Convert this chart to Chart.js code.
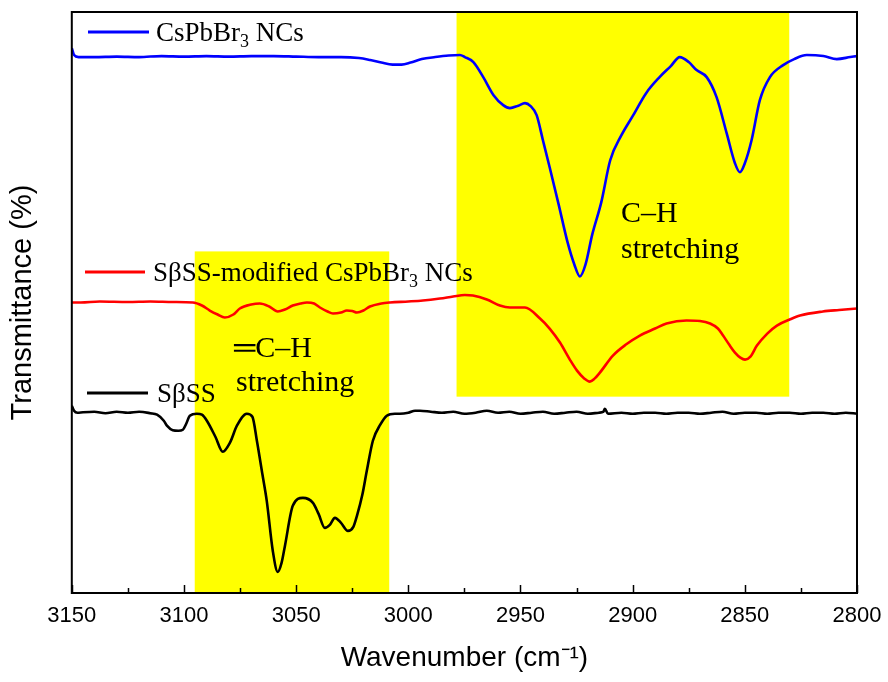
<!DOCTYPE html>
<html><head><meta charset="utf-8">
<script src="https://cdn.jsdelivr.net/npm/chart.js@4/dist/chart.umd.min.js"></script>
<style>html,body{margin:0;padding:0;background:#fff}#wrap{width:888px;height:682px}</style>
</head><body><div id="wrap"><canvas id="c" width="888" height="682" style="width:888px;height:682px"></canvas></div>
<script>
// ---- data (wavenumber in cm-1, transmittance in arbitrary offset units) ----
const xTickValues = [3150, 3100, 3050, 3000, 2950, 2900, 2850, 2800];
const seriesNames = ['CsPbBr3 NCs', 'SβSS-modified CsPbBr3 NCs', 'SβSS'];

const blueX = [3150,3149,3147,3140,3130,3120,3110,3100,3090,3080,3070,3060,3050,3040,3030,3022,3017,3012,3007,3003,2999,2994,2988,2982,2977,2974.8,2971,2966.6,2962,2957.7,2954.7,2951,2948,2945.5,2942.8,2940,2937,2933,2929,2926,2923.5,2921,2918,2914,2910,2905,2900,2894,2888,2883,2879,2875,2871.5,2867,2862.6,2858.1,2854.4,2852.2,2850,2847,2843.3,2838.8,2832.9,2828,2822.4,2815,2809,2803,2800];
const blueY = [54.4,53.7,53.5,53.5,53.55,53.5,53.6,53.55,53.6,53.55,53.6,53.6,53.55,53.5,53.5,53.4,53.2,52.95,52.75,52.75,52.95,53.3,53.5,53.65,53.7,53.5,53.0,51.5,49.7,48.7,48.4,48.65,48.9,48.6,47.7,45.2,42.5,38.8,35.0,32.8,31.6,32.8,35.8,39.0,43.2,45.7,47.6,49.9,51.5,52.6,53.5,53.0,52.2,51.5,49.5,45.9,42.9,42.0,42.9,45.2,49.2,51.5,52.7,53.3,53.7,53.6,53.3,53.5,53.6];

const redX = [3150,3146,3137.5,3125,3115,3105,3096,3092,3088.5,3085,3081.8,3078,3075.1,3070,3066.2,3062,3058.2,3055,3051.5,3048,3045.2,3042,3039.4,3036,3033.6,3030,3027.4,3025,3022.9,3020,3017.1,3012,3008.2,3000,2993.5,2985.9,2980,2974.8,2971.2,2965,2959.2,2954.7,2948,2941.3,2937,2932.4,2928,2924.8,2921.5,2919.1,2917,2914.6,2908.8,2903,2896.8,2890,2884.9,2876,2870,2865.5,2862,2859.7,2857,2854.4,2852,2849.9,2847.5,2844.6,2840,2835.7,2830,2825.4,2815.2,2808,2800];
const redY = [29.0,29.0,29.1,29.05,29.1,29.05,29.0,28.7,28.2,27.8,27.5,27.8,28.4,28.8,28.9,28.6,28.1,28.3,28.7,28.9,29.0,28.9,28.5,28.1,27.9,28.0,28.2,28.15,28.0,28.2,28.6,28.9,29.0,29.1,29.2,29.4,29.6,29.75,29.7,29.3,28.7,28.5,28.5,27.4,26.4,25.0,23.3,22.2,21.4,21.1,21.4,22.0,23.7,24.8,25.7,26.4,26.9,27.2,27.15,26.9,26.4,25.7,24.8,24.0,23.5,23.3,23.6,24.7,25.9,26.7,27.3,27.7,28.1,28.25,28.4];

const blackX = [3150,3149,3147.5,3145,3140,3135,3130,3125,3120,3115,3112,3109,3107.6,3105,3102.5,3100.5,3099,3097.4,3094.3,3092,3089.8,3086,3082.7,3079.5,3076.4,3072,3069.5,3067.5,3065,3063.1,3060.4,3058.2,3056.5,3055,3051.5,3047,3042.5,3040,3037.2,3035,3032.7,3030,3026.9,3024.5,3022.9,3020.5,3018.5,3015.8,3012.5,3009.6,3006,3003.8,3000,2997,2994.8,2990,2985,2980,2975,2970,2965,2960,2955,2950,2945,2940,2935,2930,2925,2920,2915,2913,2912.4,2911,2905,2900,2895,2890,2885,2880,2875,2870,2865,2860,2855,2850,2845,2840,2835,2830,2825,2820,2815,2810,2805,2800];
const blackY = [18.7,18.2,18.0,18.05,18.1,17.95,18.1,18.0,18.1,17.95,17.8,17.2,16.7,16.25,16.2,16.3,16.9,17.7,17.9,17.8,17.2,15.6,14.1,15.0,16.7,17.9,17.6,15.2,11.8,9.2,4.2,2.1,3.0,4.7,8.7,9.5,9.0,7.9,6.5,6.8,7.5,7.0,6.2,6.6,7.7,9.8,12.2,15.2,16.8,17.7,17.9,17.9,18.0,18.2,18.2,18.1,18.0,18.1,17.9,18.0,18.2,18.0,18.1,17.9,18.0,18.1,17.9,18.0,18.1,17.9,18.0,18.1,18.4,17.9,18.0,17.9,18.0,18.0,17.9,18.0,18.0,17.9,18.0,18.1,17.9,18.0,18.0,17.9,18.0,18.0,17.9,18.0,18.0,17.9,18.0,17.9];

// highlighted regions [x-from, x-to] and [y-from, y-to]
const boxX = [[2978.5, 2830.2], [3095.2, 3008.5]];
const boxY = [[19.6, 58], [0, 34.1]];

const toPts = (xs, ys) => xs.map((v, i) => ({x: v, y: ys[i]}));

function drawSubText(ctx, x, yb, parts) {
  let cx = x;
  for (const [t, sub] of parts) {
    ctx.font = sub ? '18px "Liberation Serif", "Times New Roman", serif' : '27px "Liberation Serif", "Times New Roman", serif';
    ctx.fillText(t, cx, sub ? yb + 6 : yb);
    cx += ctx.measureText(t).width;
  }
}

const deco = {
  id: 'deco',
  beforeDatasetsDraw(chart) {
    const {ctx, scales: {x, y}} = chart;
    ctx.save();
    ctx.fillStyle = '#FFFF00';
    for (let i = 0; i < boxX.length; i++) {
      const x1 = x.getPixelForValue(boxX[i][0]), x2 = x.getPixelForValue(boxX[i][1]);
      const y1 = y.getPixelForValue(boxY[i][1]), y2 = y.getPixelForValue(boxY[i][0]);
      ctx.fillRect(Math.min(x1, x2), Math.min(y1, y2), Math.abs(x2 - x1), Math.abs(y2 - y1));
    }
    ctx.restore();
  },
  afterDatasetsDraw(chart) {
    const {ctx, chartArea: a, scales: {x}} = chart;
    ctx.save();
    ctx.strokeStyle = '#000';
    ctx.lineWidth = 2;
    ctx.strokeRect(a.left, a.top, a.right - a.left, a.bottom - a.top);
    ctx.lineWidth = 1.5;
    for (let v = 2800; v <= 3150; v += 25) {
      const px = Math.round(x.getPixelForValue(v)) + 0.5;
      const len = (v % 50 === 0) ? 8 : 5;
      ctx.beginPath(); ctx.moveTo(px, a.bottom); ctx.lineTo(px, a.bottom - len); ctx.stroke();
    }
    const colors = ['#0000FF', '#FF0000', '#000000'];
    const rowsY = [32, 272, 393];
    const lineX = [[88, 149], [85, 145], [87, 148]];
    const textX = [156, 153, 157];
    const labels = [
      [['CsPbBr', false], ['3', true], [' NCs', false]],
      [['SβSS-modified CsPbBr', false], ['3', true], [' NCs', false]],
      [['SβSS', false]]
    ];
    ctx.lineWidth = 3;
    ctx.textBaseline = 'alphabetic';
    ctx.fillStyle = '#000';
    for (let i = 0; i < 3; i++) {
      ctx.strokeStyle = colors[i];
      ctx.beginPath(); ctx.moveTo(lineX[i][0], rowsY[i]); ctx.lineTo(lineX[i][1], rowsY[i]); ctx.stroke();
      drawSubText(ctx, textX[i], rowsY[i] + 9, labels[i]);
    }
    ctx.font = '30px "Liberation Serif", "Times New Roman", serif';
    ctx.fillText('C–H', 621, 222);
    ctx.fillText('stretching', 621, 258);
    ctx.fillText('═C–H', 234, 357);
    ctx.fillText('stretching', 236, 391);
    ctx.restore();
  }
};

new Chart(document.getElementById('c'), {
  type: 'line',
  data: {
    datasets: [
      {label: seriesNames[0], data: toPts(blueX, blueY), borderColor: '#0000FF'},
      {label: seriesNames[1], data: toPts(redX, redY), borderColor: '#FF0000'},
      {label: seriesNames[2], data: toPts(blackX, blackY), borderColor: '#000000'}
    ]
  },
  options: {
    responsive: false,
    animation: false,
    parsing: false,
    layout: {padding: {left: 0, right: 31, top: 12, bottom: 0}},
    elements: {
      point: {radius: 0},
      line: {borderWidth: 2.6, cubicInterpolationMode: 'monotone', fill: false}
    },
    plugins: {legend: {display: false}, tooltip: {enabled: false}},
    scales: {
      x: {
        type: 'linear', reverse: true, min: 2800, max: 3150,
        afterBuildTicks: s => { s.ticks = xTickValues.map(v => ({value: v})); },
        afterFit: s => { s.paddingLeft = 0; s.paddingRight = 0; },
        grid: {display: false, drawTicks: false},
        border: {display: false},
        ticks: {color: '#000', padding: 10, maxRotation: 0, callback: v => String(v),
                font: {family: '"Liberation Sans", Arial, sans-serif', size: 22}},
        title: {display: true, text: 'Wavenumber (cm⁻¹)', color: '#000', padding: {top: 2, bottom: 7},
                font: {family: '"Liberation Sans", Arial, sans-serif', size: 28}}
      },
      y: {
        min: 0, max: 58,
        grid: {display: false, drawTicks: false},
        border: {display: false},
        ticks: {display: false},
        title: {display: true, text: 'Transmittance (%)', color: '#000', padding: {top: 6, bottom: 31},
                font: {family: '"Liberation Sans", Arial, sans-serif', size: 29}}
      }
    }
  },
  plugins: [deco]
});
</script></body></html>
